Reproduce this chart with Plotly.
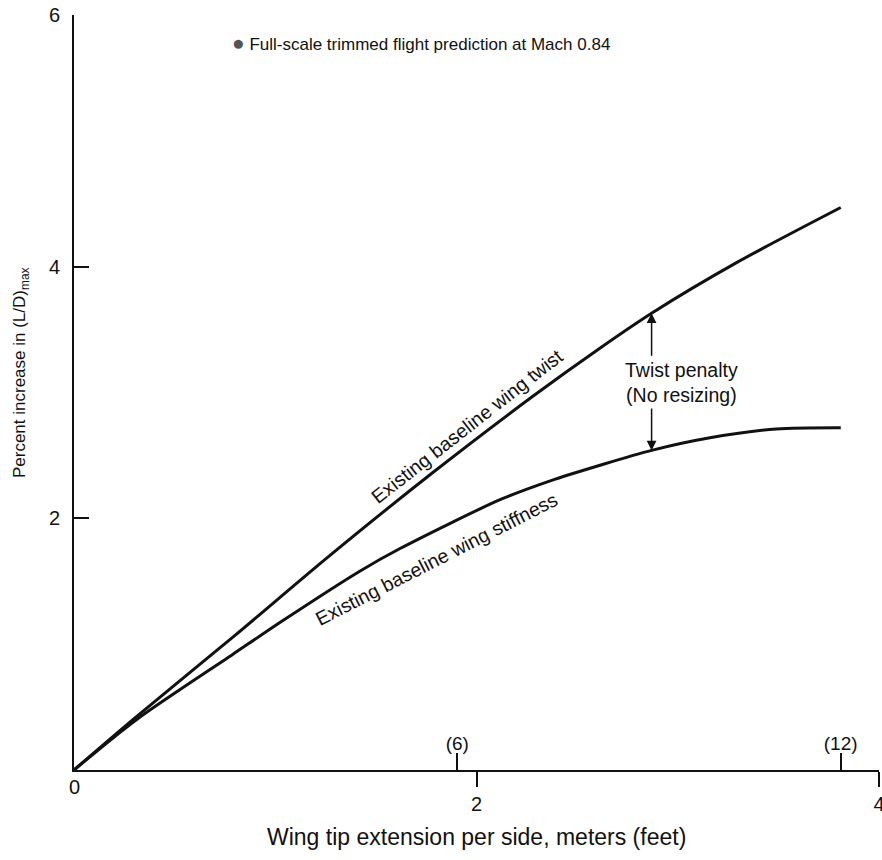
import plotly.graph_objects as go

# Wing tip extension per side (m) vs percent increase in (L/D)max
ext_twist = [0, 0.30, 0.80, 1.26, 1.78, 2.28, 2.62, 2.87, 3.29, 3.81]
ld_twist = [0, 0.41, 1.07, 1.69, 2.36, 2.97, 3.36, 3.63, 4.03, 4.47]

ext_stiff = [0, 0.31, 0.79, 1.04, 1.42, 1.62, 2.12, 2.37, 2.61, 2.87, 3.16, 3.49, 3.81]
ld_stiff = [0, 0.40, 0.92, 1.19, 1.58, 1.76, 2.15, 2.30, 2.42, 2.54, 2.64, 2.71, 2.72]

x_ticks_m = [2, 4]
y_ticks = [0, 2, 4, 6]
feet_ticks = [6, 12]
feet_range = [0, 12.6]

# twist penalty marker location (m) and values of both curves there
penalty_x = 2.87
penalty_top = ld_twist[ext_twist.index(penalty_x)]
penalty_bottom = ld_stiff[ext_stiff.index(penalty_x)]

FONT = "Liberation Sans"
BLACK = "#111111"
TICK_FONT = dict(size=20, family=FONT, color=BLACK)

fig = go.Figure()

for xs, ys in [(ext_twist, ld_twist), (ext_stiff, ld_stiff)]:
    fig.add_trace(go.Scatter(
        x=xs, y=ys, mode="lines",
        line=dict(color=BLACK, width=3, shape="spline", smoothing=0.8),
        hoverinfo="skip", showlegend=False,
    ))

# invisible trace so the feet axis is drawn
fig.add_trace(go.Scatter(x=feet_range, y=[0, 0], xaxis="x2", mode="lines",
                         line=dict(width=0), hoverinfo="skip", showlegend=False))

fig.update_layout(
    width=882, height=860,
    margin=dict(l=74, r=3, t=15, b=90),
    paper_bgcolor="white", plot_bgcolor="white",
    font=dict(family=FONT, color=BLACK, size=17),
    xaxis=dict(
        range=[0, 4], showgrid=False, zeroline=False, automargin=False,
        showline=True, linecolor=BLACK, linewidth=2,
        tickvals=x_ticks_m, ticktext=[str(v) for v in x_ticks_m],
        ticks="outside", ticklen=15, tickwidth=2, tickcolor=BLACK,
        ticklabeloverflow="allow",
        tickfont=TICK_FONT,
    ),
    xaxis2=dict(
        range=feet_range, overlaying="x", anchor="y", side="bottom",
        showgrid=False, zeroline=False, showline=False, automargin=False,
        tickvals=feet_ticks, ticktext=[f"({f})" for f in feet_ticks],
        ticks="inside", ticklen=17, tickwidth=2, tickcolor=BLACK,
        ticklabelposition="inside",
        tickfont=dict(size=19, family=FONT, color=BLACK),
    ),
    yaxis=dict(
        range=[0, 6], showgrid=False, zeroline=False, automargin=False,
        showline=True, linecolor=BLACK, linewidth=2,
        tickvals=y_ticks, ticktext=[str(v) for v in y_ticks],
        ticks="inside", ticklen=15, tickwidth=2, tickcolor=BLACK,
        ticklabelstandoff=8,
        tickfont=TICK_FONT,
    ),
)

annotations = [
    # origin label on the x axis
    dict(x=0, y=0, xref="x", yref="y", text="0", showarrow=False,
         yshift=-17, font=TICK_FONT),
    # axis titles
    dict(x=0.5, y=-0.089, xref="paper", yref="paper", xanchor="center", yanchor="middle",
         text="Wing tip extension per side, meters (feet)", showarrow=False,
         font=dict(size=23)),
    dict(x=-0.065, y=3.16, xref="paper", yref="y", xanchor="center", yanchor="middle",
         text="Percent increase in (L/D)<sub>max</sub>", textangle=-90, showarrow=False,
         font=dict(size=17)),
    # key
    dict(x=0.775, y=5.78, xref="x", yref="y", xanchor="left", yanchor="middle",
         text="<span style='color:#555555;font-size:21px'>●</span> Full-scale trimmed flight prediction at Mach 0.84",
         showarrow=False, font=dict(size=17)),
    # curve labels
    dict(x=1.955, y=2.73, xref="x", yref="y", text="Existing baseline wing twist",
         textangle=-38, showarrow=False, font=dict(size=19.5)),
    dict(x=1.80, y=1.68, xref="x", yref="y", text="Existing baseline wing stiffness",
         textangle=-27, showarrow=False, font=dict(size=19.5)),
    # twist penalty
    dict(x=3.02, y=3.08, xref="x", yref="y", text="Twist penalty<br>(No resizing)",
         showarrow=False, font=dict(size=19.5)),
    dict(x=penalty_x, y=penalty_top, ax=penalty_x, ay=3.28, xref="x", yref="y",
         axref="x", ayref="y", text="", showarrow=True, arrowhead=2, arrowsize=1.3,
         arrowwidth=1.5, arrowcolor=BLACK),
    dict(x=penalty_x, y=penalty_bottom, ax=penalty_x, ay=2.885, xref="x", yref="y",
         axref="x", ayref="y", text="", showarrow=True, arrowhead=2, arrowsize=1.3,
         arrowwidth=1.5, arrowcolor=BLACK),
]
fig.update_layout(annotations=annotations)

fig.write_html("out.html")
